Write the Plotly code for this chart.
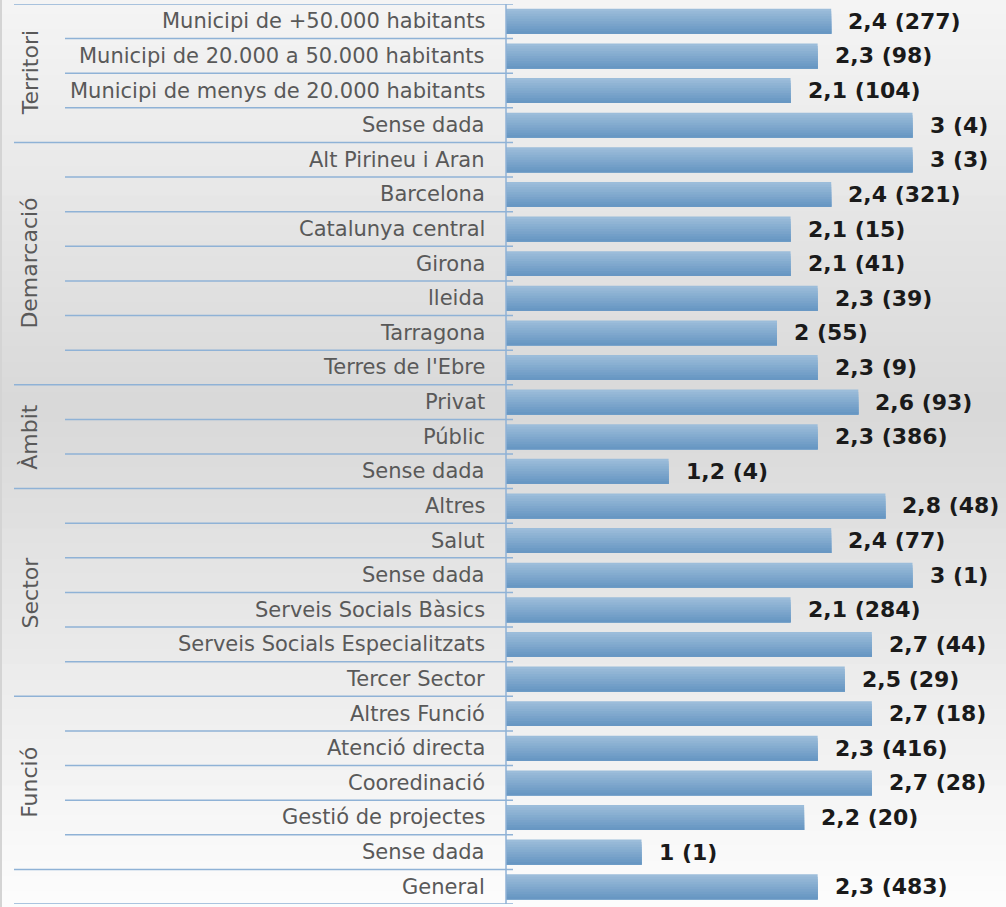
import plotly.graph_objects as go
import numpy as np

categories = [
    "Municipi de +50.000 habitants", "Municipi de 20.000 a 50.000 habitants",
    "Municipi de menys de 20.000 habitants", "Sense dada",
    "Alt Pirineu i Aran", "Barcelona", "Catalunya central", "Girona", "lleida",
    "Tarragona", "Terres de l'Ebre",
    "Privat", "Públic", "Sense dada",
    "Altres", "Salut", "Sense dada", "Serveis Socials Bàsics",
    "Serveis Socials Especialitzats", "Tercer Sector",
    "Altres Funció", "Atenció directa", "Cooredinació", "Gestió de projectes", "Sense dada",
    "General",
]
values = [2.4, 2.3, 2.1, 3,
          3, 2.4, 2.1, 2.1, 2.3, 2, 2.3,
          2.6, 2.3, 1.2,
          2.8, 2.4, 3, 2.1, 2.7, 2.5,
          2.7, 2.3, 2.7, 2.2, 1,
          2.3]
counts = [277, 98, 104, 4,
          3, 321, 15, 41, 39, 55, 9,
          93, 386, 4,
          48, 77, 1, 284, 44, 29,
          18, 416, 28, 20, 1,
          483]
groups = ["Territori", "Demarcació", "Àmbit", "Sector", "Funció", ""]
group_sizes = [4, 7, 3, 6, 5, 1]

n = len(categories)
ypos = list(range(n))

def fmt(v):
    return ("%g" % v).replace(".", ",")

labels = [f"{fmt(v)} ({c})" for v, c in zip(values, counts)]

W, H = 1006, 907
ml, mr, mt, mb = 506, 0, 4, 3
pw = W - ml - mr
px_per_unit = 135.5
xmax = pw / px_per_unit

fig = go.Figure()

# gradient bars via overlapping stripes (lighter on top, darker at bottom)
nstr = 10
bw = 0.72
step = bw / nstr
top_col = np.array([0x9c, 0xbd, 0xda])
bot_col = np.array([0x68, 0x97, 0xc3])
for k in range(nstr):
    t = k / (nstr - 1)
    c = (top_col * (1 - t) + bot_col * t).astype(int)
    fig.add_trace(go.Bar(
        x=values, y=ypos, orientation="h",
        width=bw - k * step, offset=-bw / 2 + k * step,
        marker=dict(color="rgb(%d,%d,%d)" % tuple(c), line=dict(width=0)),
        showlegend=False, hoverinfo="skip" if k else "x+y",
    ))

# value labels
for i, (v, lab) in enumerate(zip(values, labels)):
    fig.add_annotation(x=v, y=i, text=f"<b>{lab}</b>", showarrow=False,
                       xanchor="left", yanchor="middle", xshift=15,
                       font=dict(family="DejaVu Sans", size=22, color="#1a1a1a"))

# category labels
for i, cat in enumerate(categories):
    fig.add_annotation(x=0, y=i, xref="paper", text=cat, showarrow=False,
                       xanchor="right", yanchor="middle", xshift=-19,
                       font=dict(family="DejaVu Sans", size=21, color="#595959"))

line_col = "#8fb2d6"
x_left_group = (14 - ml) / pw
x_left_inner = (65 - ml) / pw
x_right = (513 - ml) / pw

shapes = []
# background gradient
stops = [(0.0, 245), (0.45, 216), (1.0, 253)]
nb = 60
def fy(v):
    return (v * H - mb) / (H - mt - mb)
for j in range(nb):
    f = (j + 0.5) / nb
    for (a, ca), (b, cb) in zip(stops[:-1], stops[1:]):
        if a <= f <= b:
            g = int(round(ca + (cb - ca) * (f - a) / (b - a)))
            break
    y_top = 1 - j / nb
    y_bot = 1 - (j + 1) / nb
    shapes.append(dict(type="rect", xref="paper", yref="paper",
                       x0=-ml / pw - 0.01, x1=1.01, y0=fy(y_bot) - 0.001, y1=fy(y_top) + 0.001,
                       fillcolor="rgb(%d,%d,%d)" % (g, g, g), line=dict(width=0), layer="below"))

# horizontal separators
boundaries = set()
acc = 0
for s in group_sizes:
    boundaries.add(acc)
    acc += s
boundaries.add(acc)
for b in range(n + 1):
    x0 = x_left_group if b in boundaries else x_left_inner
    shapes.append(dict(type="line", xref="paper", yref="y", x0=x0, x1=x_right,
                       y0=b - 0.5, y1=b - 0.5, line=dict(color=line_col, width=1.5), layer="above"))
# vertical axis line
shapes.append(dict(type="line", xref="paper", yref="y", x0=0, x1=0, y0=-0.5, y1=n - 0.5,
                   line=dict(color=line_col, width=1.5)))
# faint left border
shapes.append(dict(type="line", xref="paper", yref="paper", x0=(1 - ml) / pw, x1=(1 - ml) / pw,
                   y0=-0.01, y1=1.01, line=dict(color="#d4d4d4", width=2)))

# group labels
acc = 0
for g, s in zip(groups, group_sizes):
    if g:
        fig.add_annotation(x=(30 - ml) / pw, xref="paper", y=acc + (s - 1) / 2, text=g,
                           showarrow=False, textangle=-90, xanchor="center", yanchor="middle",
                           font=dict(family="DejaVu Sans", size=22, color="#595959"))
    acc += s

fig.update_layout(
    width=W, height=H,
    margin=dict(l=ml, r=mr, t=mt, b=mb),
    barmode="overlay",
    paper_bgcolor="#f0f0f0", plot_bgcolor="rgba(0,0,0,0)",
    shapes=shapes,
    showlegend=False,
    xaxis=dict(range=[0, xmax], visible=False, fixedrange=True),
    yaxis=dict(range=[n - 0.5, -0.5], showticklabels=False, showgrid=False,
               zeroline=False, showline=False, ticks="", fixedrange=True),
)

fig.write_html("out.html", config={"displayModeBar": False},
               post_script="document.body.style.margin='0';document.body.style.padding='0';")
